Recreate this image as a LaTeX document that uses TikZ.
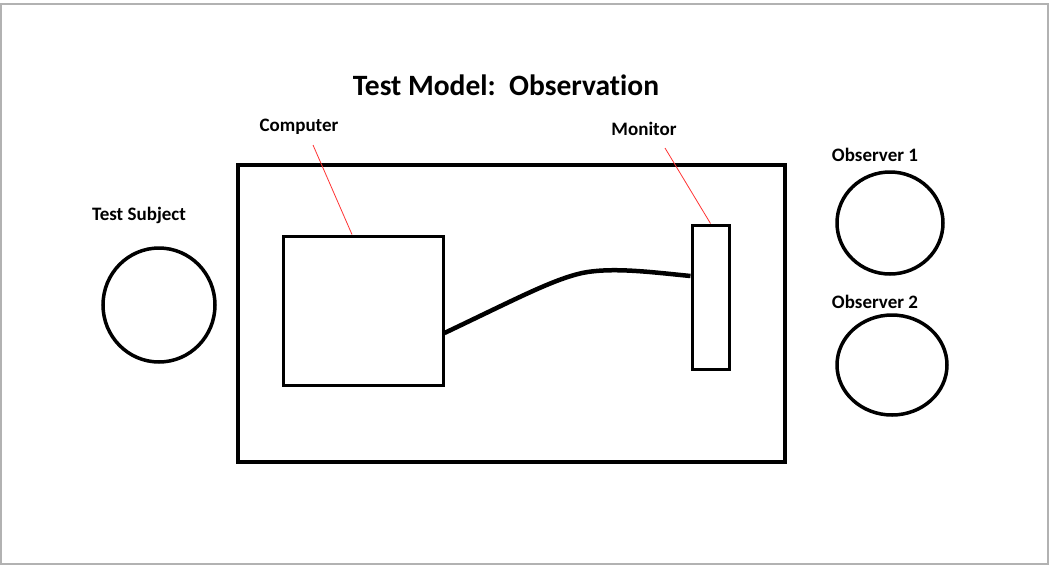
\documentclass[tikz,border=0pt]{standalone}
\usepackage{fontspec}
\setmainfont{Carlito}[Ligatures=NoCommon]
\usetikzlibrary{shapes.geometric}
\begin{document}
\begin{tikzpicture}[x=1pt,y=-1pt,
  lbl/.style={font=\bfseries\fontsize{19}{22}\selectfont, inner sep=0pt},
  box/.style={draw, line width=3pt, inner sep=0pt},
  person/.style={draw, ellipse, line width=3.5pt, inner sep=0pt},
  pointer/.style={draw=red!80, line width=0.8pt}]
\useasboundingbox (0,0) rectangle (1050,566);
\draw[gray!60, line width=1.2pt] (1,4) rectangle (1048,564);
\node[font=\bfseries\fontsize{29.5}{34}\selectfont, inner sep=0pt] (title) at (506,85) {Test Model:\ \ Observation};
\node[box, line width=4pt, minimum width=547pt, minimum height=297pt] (frame) at (511.5,313.5) {};
\node[box, minimum width=160pt, minimum height=149pt] (comp) at (363,310.5) {};
\node[box, minimum width=37pt, minimum height=144pt] (mon) at (710.5,297) {};
\node[person, minimum width=112pt, minimum height=114pt] (subj) at (159,305) {};
\node[person, minimum width=106pt, minimum height=102pt] (obs1) at (890,223) {};
\node[person, minimum width=110pt, minimum height=100pt] (obs2) at (892,365) {};
\node[lbl] (lcomp) at (299,127) {Computer};
\node[lbl] (lmon) at (644,129) {Monitor};
\node[lbl] (lobs1) at (875,155) {Observer 1};
\node[lbl] (lobs2) at (875,302) {Observer 2};
\node[lbl] (lsubj) at (139,215) {Test Subject};
\coordinate (pc) at (313,145);
\coordinate (pm) at (665,148);
\coordinate (bend) at (582,273);
\draw[pointer] (pc) -- ([xshift=-11pt]comp.north);
\draw[pointer] (pm) -- (mon.north);
\draw[line width=4.5pt] ([yshift=-22.5pt]comp.east) .. controls (520,297) and (552,280) .. (bend) .. controls (612,267) and (650,272) .. ([yshift=21pt]mon.west);
\end{tikzpicture}
\end{document}
